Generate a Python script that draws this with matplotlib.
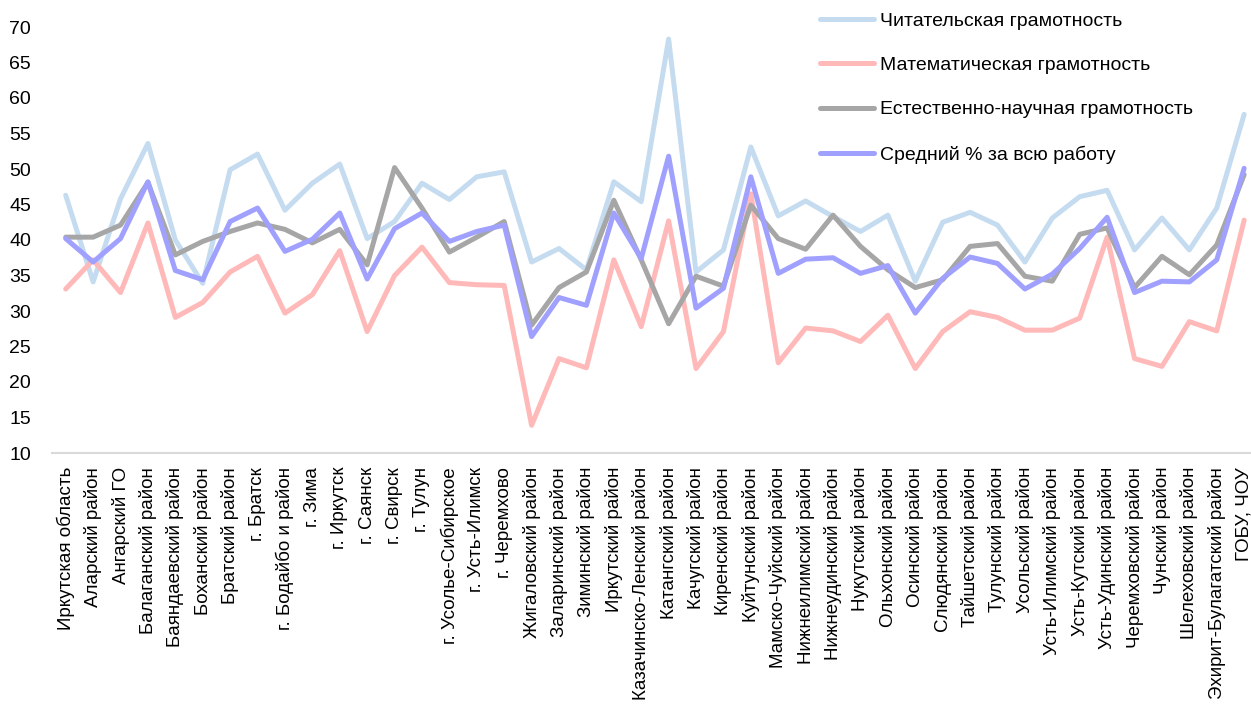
import matplotlib
matplotlib.use("Agg")
import matplotlib.pyplot as plt

# Районы / муниципалитеты
districts = [
    "Иркутская область", "Аларский район", "Ангарский ГО", "Балаганский район",
    "Баяндаевский район", "Боханский район", "Братский район", "г. Братск",
    "г. Бодайбо и район", "г. Зима", "г. Иркутск", "г. Саянск", "г. Свирск",
    "г. Тулун", "г. Усолье-Сибирское", "г. Усть-Илимск", "г. Черемхово",
    "Жигаловский район", "Заларинский район", "Зиминский район", "Иркутский район",
    "Казачинско-Ленский район", "Катангский район", "Качугский район",
    "Киренский район", "Куйтунский район", "Мамско-Чуйский район",
    "Нижнеилимский район", "Нижнеудинский район", "Нукутский район",
    "Ольхонский район", "Осинский район", "Слюдянский район", "Тайшетский район",
    "Тулунский район", "Усольский район", "Усть-Илимский район", "Усть-Кутский район",
    "Усть-Удинский район", "Черемховский район", "Чунский район",
    "Шелеховский район", "Эхирит-Булагатский район", "ГОБУ, ЧОУ",
]

reading = [46.3, 34.1, 45.8, 53.6, 40.0, 33.9, 49.9, 52.1, 44.2, 48.0,
           50.7, 40.2, 42.6, 48.0, 45.7, 48.9, 49.6, 36.9, 38.8, 35.8,
           48.2, 45.4, 68.3, 35.5, 38.6, 53.1, 43.4, 45.5, 43.3, 41.2,
           43.5, 34.2, 42.5, 43.9, 42.1, 36.9, 43.1, 46.1, 47.0, 38.6,
           43.1, 38.6, 44.5, 57.7]

math = [33.1, 37.2, 32.6, 42.4, 29.1, 31.2, 35.5, 37.7, 29.7, 32.3,
        38.5, 27.1, 35.0, 39.0, 34.0, 33.7, 33.6, 13.9, 23.3, 22.0,
        37.2, 27.8, 42.7, 21.9, 27.1, 46.5, 22.7, 27.6, 27.2, 25.7,
        29.4, 21.9, 27.1, 29.9, 29.1, 27.3, 27.3, 29.0, 40.4, 23.3,
        22.2, 28.5, 27.2, 42.8]

science = [40.4, 40.4, 42.1, 48.1, 37.9, 39.8, 41.2, 42.4, 41.5, 39.6,
           41.5, 36.5, 50.2, 44.5, 38.3, 40.4, 42.6, 28.0, 33.3, 35.5,
           45.6, 37.2, 28.2, 34.9, 33.5, 44.9, 40.2, 38.7, 43.5, 39.1,
           35.8, 33.3, 34.4, 39.1, 39.5, 34.9, 34.2, 40.8, 41.7, 33.3,
           37.7, 35.1, 39.3, 49.2]

average = [40.2, 36.9, 40.2, 48.2, 35.7, 34.4, 42.6, 44.5, 38.4, 40.1,
           43.8, 34.5, 41.6, 43.8, 39.8, 41.2, 42.1, 26.4, 31.9, 30.8,
           43.8, 37.4, 51.8, 30.4, 33.2, 48.9, 35.3, 37.3, 37.5, 35.3,
           36.4, 29.7, 34.6, 37.6, 36.7, 33.1, 35.2, 38.8, 43.2, 32.6,
           34.2, 34.1, 37.2, 50.1]

series_names = ["Читательская грамотность", "Математическая грамотность",
                "Естественно-научная грамотность", "Средний % за всю работу"]

plt.rcParams['font.family'] = ['Liberation Sans', 'DejaVu Sans']

fig = plt.figure(figsize=(12.51, 7.11), dpi=100)
ax = fig.add_axes([52 / 1251, 258 / 711, 1199 / 1251, 426 / 711])

x = range(len(districts))
colors = ["#C5DCF0", "#FFB9B9", "#A6A6A6", "#A0A0FF"]
for vals, name, col in zip([reading, math, science, average], series_names, colors):
    ax.plot(x, vals, color=col, lw=3.6, label=name,
            solid_capstyle="round", solid_joinstyle="round")

ax.set_xlim(-0.5, len(districts) - 0.75)
ax.set_ylim(10, 70)
ax.set_yticks(range(10, 71, 5))
ax.set_xticks(list(x))
ax.set_xticklabels(districts, rotation=90, fontsize=13.5)
ax.tick_params(axis="y", length=0, pad=15, labelsize=14)
ax.tick_params(axis="x", length=0, pad=10)

for side in ["top", "right", "left"]:
    ax.spines[side].set_visible(False)
ax.spines["bottom"].set_color("#D9D9D9")
ax.spines["bottom"].set_linewidth(1.5)

# Легенда без рамки в правом верхнем углу
fig.legend(loc="upper left", bbox_to_anchor=(820 / 1251, 1 - 12 / 711),
           frameon=False, fontsize=14, borderpad=0, borderaxespad=0,
           handlelength=2.8, handletextpad=0.3, labelspacing=1.38)

fig.savefig("out.png", dpi=100)
